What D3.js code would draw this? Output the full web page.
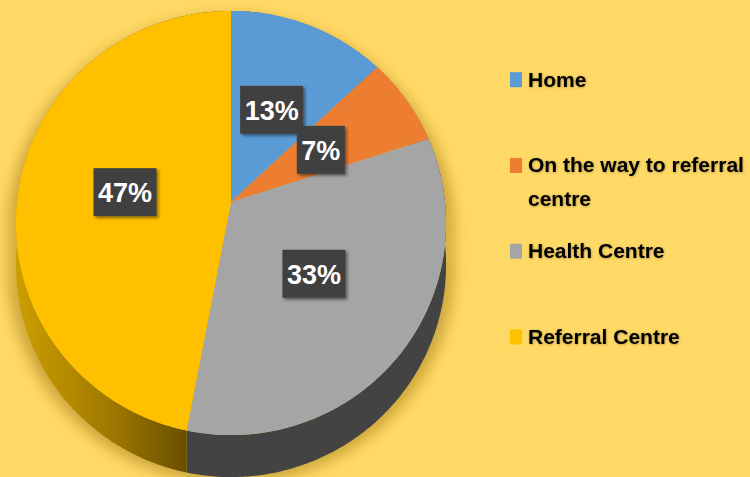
<!DOCTYPE html>
<html>
<head>
<meta charset="utf-8">
<script src="https://cdn.jsdelivr.net/npm/d3@7"></script>
<style>
  body { margin: 0; background: #FFD966; }
  svg { display: block; font-family: "Liberation Sans", Arial, sans-serif; }
</style>
</head>
<body>
<div id="chart"></div>
<script>
const categories = ["Home", "On the way to referral centre", "Health Centre", "Referral Centre"];
const legendLines = [["Home"], ["On the way to referral", "centre"], ["Health Centre"], ["Referral Centre"]];
const values = [13, 7, 33, 47];
const colors = ["#5B9BD5", "#ED7D31", "#A5A5A5", "#FFC000"];
const sideColors = ["#3E6F9C", "#A8571F", "#434343", "url(#goldSide)"];

const width = 750;
const height = 477;
const cx = 231, cy = 202;   // where the slices meet
const rx = 214, ry = 210;   // projected radii
const tilt = 0.099;         // perspective strength
const depth = 42;           // thickness of the pie

const svg = d3.select("#chart")
  .append("svg")
  .attr("width", width)
  .attr("height", height)
  .attr("viewBox", `0 0 ${width} ${height}`);

svg.append("rect").attr("width", width).attr("height", height).attr("fill", "#FFD966");

const defs = svg.append("defs");

const gold = defs.append("linearGradient")
  .attr("id", "goldSide")
  .attr("gradientUnits", "userSpaceOnUse")
  .attr("x1", 16).attr("x2", 185).attr("y1", 0).attr("y2", 0);
gold.append("stop").attr("offset", "0%").attr("stop-color", "#CC9E00");
gold.append("stop").attr("offset", "55%").attr("stop-color", "#A07A00");
gold.append("stop").attr("offset", "100%").attr("stop-color", "#6A4F00");

defs.append("filter").attr("id", "blur")
  .attr("x", "-20%").attr("y", "-20%").attr("width", "140%").attr("height", "140%")
  .append("feGaussianBlur").attr("stdDeviation", 7);

const boxShadow = defs.append("filter").attr("id", "boxShadow")
  .attr("x", "-20%").attr("y", "-20%").attr("width", "150%").attr("height", "150%");
boxShadow.append("feDropShadow")
  .attr("dx", 2).attr("dy", 2).attr("stdDeviation", 1.5)
  .attr("flood-color", "#000").attr("flood-opacity", 0.45);

const textGlow = defs.append("filter").attr("id", "textGlow")
  .attr("x", "-10%").attr("y", "-30%").attr("width", "120%").attr("height", "160%");
textGlow.append("feDropShadow")
  .attr("dx", 0.5).attr("dy", 0.5).attr("stdDeviation", 1)
  .attr("flood-color", "#000").attr("flood-opacity", 0.35);

// angle (0 at 12 o'clock, clockwise) -> point on the tilted disc
function proj(theta, r = 1, dy = 0) {
  const u = r * Math.sin(theta);
  const v = -r * Math.cos(theta);
  const den = 1 - tilt * v;
  return [cx + rx * u / den, cy + ry * v / den + dy];
}

function arcPoints(a0, a1, dy = 0) {
  const n = Math.max(8, Math.ceil((a1 - a0) / 0.01));
  return d3.range(n + 1).map(i => proj(a0 + (a1 - a0) * i / n, 1, dy));
}

const line = d3.line();
const arcs = d3.pie().sort(null).value(d => d)(values);

// soft shadow under the whole pie
const full = arcPoints(0, 2 * Math.PI);
const fullLow = arcPoints(0, 2 * Math.PI, depth + 4);
svg.append("path")
  .attr("d", line(full.map(p => [cx + (p[0] - cx) * 1.03, p[1] + 8])) + "Z" +
             line(fullLow.map(p => [cx + (p[0] - cx) * 1.03, p[1]])) + "Z")
  .attr("fill", "#B8912A")
  .attr("opacity", 0.55)
  .attr("filter", "url(#blur)");
svg.append("path")
  .attr("d", d3.range(0, 361, 2).map((deg, i) => {
      const a = deg * Math.PI / 180;
      const top = proj(a, 1.02, 6);
      const low = proj(a, 1.02, depth + 2);
      return `M${top[0]},${top[1]}L${low[0]},${low[1]}`;
    }).join(""))
  .attr("stroke", "#B8912A")
  .attr("stroke-width", 8)
  .attr("opacity", 0.35)
  .attr("filter", "url(#blur)");

// side walls
svg.append("g")
  .selectAll("path")
  .data(arcs)
  .join("path")
  .attr("d", d => {
    const top = arcPoints(d.startAngle, d.endAngle);
    const low = arcPoints(d.startAngle, d.endAngle, depth).reverse();
    return line(top.concat(low)) + "Z";
  })
  .attr("fill", (d, i) => sideColors[i]);

// top faces
svg.append("g")
  .selectAll("path")
  .data(arcs)
  .join("path")
  .attr("d", d => line([[cx, cy]].concat(arcPoints(d.startAngle, d.endAngle))) + "Z")
  .attr("fill", (d, i) => colors[i]);

// data labels
const labels = svg.append("g")
  .selectAll("g")
  .data(arcs)
  .join("g")
  .attr("transform", d => {
    const p = proj((d.startAngle + d.endAngle) / 2, 0.5);
    return `translate(${p[0]},${p[1]})`;
  });

labels.append("rect").attr("fill", "#404040").attr("filter", "url(#boxShadow)");
labels.append("text")
  .attr("text-anchor", "middle")
  .attr("y", 10)
  .attr("fill", "#fff")
  .attr("font-size", 27)
  .attr("font-weight", "bold")
  .text(d => d.data + "%");
labels.each(function () {
  const g = d3.select(this);
  const w = g.select("text").node().getComputedTextLength() + 9;
  g.select("rect").attr("x", -w / 2).attr("y", -24).attr("width", w).attr("height", 48);
});

// legend
const legendY = d3.scaleLinear().domain([0, 3]).range([86.7, 344]);
const legend = svg.append("g")
  .selectAll("g")
  .data(categories)
  .join("g")
  .attr("transform", (d, i) => `translate(510,${legendY(i)})`);

legend.append("rect")
  .attr("x", 0).attr("y", -14.5)
  .attr("width", 12).attr("height", 15)
  .attr("fill", (d, i) => colors[i]);

legend.append("text")
  .attr("x", 18)
  .attr("font-size", 21)
  .attr("font-weight", "bold")
  .attr("fill", "#000")
  .attr("filter", "url(#textGlow)")
  .selectAll("tspan")
  .data((d, i) => legendLines[i])
  .join("tspan")
  .attr("x", 18)
  .attr("dy", (d, j) => j === 0 ? 0 : 34)
  .text(d => d);
</script>
</body>
</html>
